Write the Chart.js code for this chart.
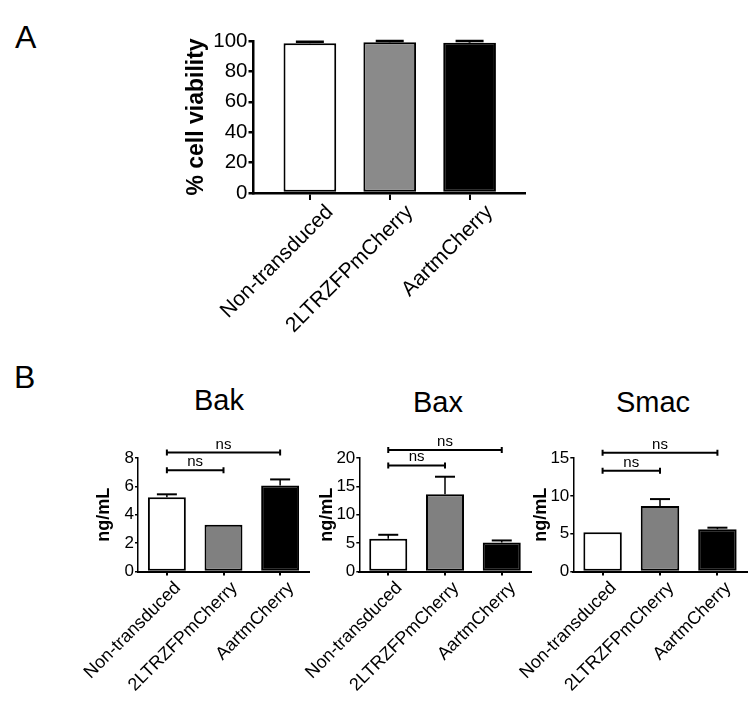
<!DOCTYPE html>
<html><head><meta charset="utf-8">
<script src="https://cdn.jsdelivr.net/npm/chart.js@4.4.1/dist/chart.umd.min.js"></script>
<style>
html,body{margin:0;padding:0;background:#fff;width:756px;height:703px;overflow:hidden;font-family:"Liberation Sans",Arial,sans-serif;}
.box{position:absolute;left:0;width:756px;}
.lbl{position:absolute;line-height:1;color:#000;white-space:nowrap;}
</style></head><body>
<div class="lbl" style="left:15px;top:21px;font-size:32px;">A</div>
<div class="lbl" style="left:14px;top:361px;font-size:32px;">B</div>
<div class="lbl" style="left:159px;top:386px;width:120px;text-align:center;font-size:29px;">Bak</div>
<div class="lbl" style="left:378px;top:388px;width:120px;text-align:center;font-size:29px;">Bax</div>
<div class="lbl" style="left:593px;top:388px;width:120px;text-align:center;font-size:29px;">Smac</div>
<div class="box" style="top:0;height:360px;"><canvas id="cA"></canvas></div>
<div class="box" style="top:360px;height:343px;"><canvas id="cBak"></canvas></div>
<div class="box" style="top:360px;height:343px;"><canvas id="cBax"></canvas></div>
<div class="box" style="top:360px;height:343px;"><canvas id="cSmac"></canvas></div>
<script>
// ---- data ----
const categories = ['Non-transduced', '2LTRZFPmCherry', 'AartmCherry'];
const viability = [98.6, 99.2, 98.9];
const viabilityErr = [0.9, 0.8, 1.1];
const viabilityTicks = [0, 20, 40, 60, 80, 100];
const bak = [5.24, 3.3, 6.07];
const bakErr = [0.2, 0, 0.42];
const bakTicks = [0, 2, 4, 6, 8];
const bakBrackets = [[0, 1, 7.13, 'ns'], [0, 2, 8.38, 'ns']];
const bax = [5.77, 13.6, 5.12];
const baxErr = [0.7, 3.1, 0.35];
const baxTicks = [0, 5, 10, 15, 20];
const baxBrackets = [[0, 1, 18.7, 'ns'], [0, 2, 21.4, 'ns']];
const smac = [5.18, 8.64, 5.58];
const smacErr = [0, 0.93, 0.21];
const smacTicks = [0, 5, 10, 15];
const smacBrackets = [[0, 1, 13.3, 'ns'], [0, 2, 15.7, 'ns']];

Chart.defaults.font.family = '"Liberation Sans", Arial, sans-serif';
Chart.defaults.color = '#000';

const marks = {
  id: 'marks',
  afterDatasetsDraw(chart, args, opts) {
    const ctx = chart.ctx, xs = chart.scales.x, ys = chart.scales.y;
    const meta = chart.getDatasetMeta(0);
    const ds = chart.data.datasets[0].data;
    ctx.save();
    ctx.strokeStyle = '#000';
    ctx.fillStyle = '#000';
    (opts.errors || []).forEach((e, i) => {
      if (!e) return;
      const el = meta.data[i];
      const v = ds[i].y;
      const x = el.x, y0 = ys.getPixelForValue(v), y1 = ys.getPixelForValue(v + e);
      ctx.lineWidth = opts.stemWidth;
      ctx.beginPath(); ctx.moveTo(x, y0); ctx.lineTo(x, y1); ctx.stroke();
      ctx.lineWidth = opts.capWidth;
      ctx.beginPath(); ctx.moveTo(x - opts.cap / 2, y1); ctx.lineTo(x + opts.cap / 2, y1); ctx.stroke();
    });
    ctx.font = '15px "Liberation Sans", Arial, sans-serif';
    ctx.textAlign = 'center';
    ctx.textBaseline = 'alphabetic';
    (opts.brackets || []).forEach(b => {
      const xa = xs.getPixelForValue(b[0] + 1), xb = xs.getPixelForValue(b[1] + 1), y = ys.getPixelForValue(b[2]);
      ctx.lineWidth = 2;
      ctx.beginPath(); ctx.moveTo(xa, y); ctx.lineTo(xb, y); ctx.stroke();
      ctx.beginPath(); ctx.moveTo(xa, y - 3); ctx.lineTo(xa, y + 3); ctx.moveTo(xb, y - 3); ctx.lineTo(xb, y + 3); ctx.stroke();
      ctx.fillText(b[3], (xa + xb) / 2, y - 4);
    });
    ctx.restore();
  }
};

function makeChart(id, c) {
  return new Chart(document.getElementById(id), {
    type: 'bar',
    data: { datasets: [{
      data: c.values.map((v, i) => ({ x: i + 1, y: v })),
      backgroundColor: c.colors, borderColor: '#000', borderWidth: c.barBorder,
      borderSkipped: false, barPercentage: c.barPct, categoryPercentage: 1
    }] },
    options: {
      responsive: true, maintainAspectRatio: false, animation: false,
      events: [],
      layout: { padding: { left: c.padL, right: c.padR, top: c.padT, bottom: 0 } },
      plugins: {
        legend: { display: false }, tooltip: { enabled: false },
        marks: { errors: c.errors, brackets: c.brackets, cap: c.cap, capWidth: c.capWidth, stemWidth: c.stemWidth }
      },
      scales: {
        x: {
          type: 'linear', min: c.xMin, max: c.xMax, offset: false,
          afterBuildTicks: s => { s.ticks = categories.map((cat, i) => ({ value: i + 1 })); },
          afterFit: s => { s.height = c.xH; },
          ticks: { autoSkip: false, maxRotation: 45, minRotation: 45, padding: c.xPad, labelOffset: c.xLabelOff, color: '#000',
            callback: v => categories[Math.round(v) - 1], font: { size: c.xFont } },
          grid: { offset: false, drawOnChartArea: false, drawTicks: true, tickLength: c.xTick, color: '#000', lineWidth: 2 },
          border: { display: true, color: '#000', width: c.xBorder }
        },
        y: {
          min: 0, max: c.yTicks[c.yTicks.length - 1],
          afterBuildTicks: s => { s.ticks = c.yTicks.map(v => ({ value: v })); },
          afterFit: s => { s.width = c.yW; },
          title: { display: true, text: c.yTitle, color: '#000', padding: 0, font: { size: c.yTitleFont, weight: 'bold' } },
          ticks: { color: '#000', padding: 1, font: { size: c.yFont } },
          grid: { drawOnChartArea: false, drawTicks: true, tickLength: c.yTick, color: '#000', lineWidth: c.yBorder },
          border: { display: true, color: '#000', width: c.yBorder }
        }
      }
    },
    plugins: [marks]
  });
}

makeChart('cA', {
  values: viability, errors: viabilityErr, brackets: [], yTicks: viabilityTicks,
  colors: ['#ffffff', '#8a8a8a', '#000000'], barBorder: 2, barPct: 0.66,
  xMin: 0.294, xMax: 3.694,
  padL: 182.7, padR: 231, padT: 41, xH: 167, yW: 70.8,
  xFont: 21, xPad: 0, xLabelOff: 20, yFont: 20.5, yTitle: '% cell viability', yTitleFont: 23,
  xTick: 7, yTick: 5, xBorder: 2.5, yBorder: 2.5, cap: 28, capWidth: 2.5, stemWidth: 2
});
const bStyle = {
  colors: ['#ffffff', '#808080', '#000000'], barBorder: 2, barPct: 0.67,
  xMin: 0.49, xMax: 3.51, padT: 98, xH: 131.5,
  xFont: 18, xPad: 2, xLabelOff: 11, yFont: 17, yTitle: 'ng/mL', yTitleFont: 18,
  xTick: 4, yTick: 3, xBorder: 2, yBorder: 1.5, cap: 20, capWidth: 2, stemWidth: 1.5
};
makeChart('cBak', Object.assign({}, bStyle, {
  values: bak, errors: bakErr, brackets: bakBrackets, yTicks: bakTicks,
  padL: 93.7, padR: 447, yW: 44.3
}));
makeChart('cBax', Object.assign({}, bStyle, {
  values: bax, errors: baxErr, brackets: baxBrackets, yTicks: baxTicks,
  padL: 316.7, padR: 225.3, yW: 42.6
}));
makeChart('cSmac', Object.assign({}, bStyle, {
  values: smac, errors: smacErr, brackets: smacBrackets, yTicks: smacTicks,
  padL: 530.7, padR: 9.3, yW: 42.6
}));
</script>
</body></html>
